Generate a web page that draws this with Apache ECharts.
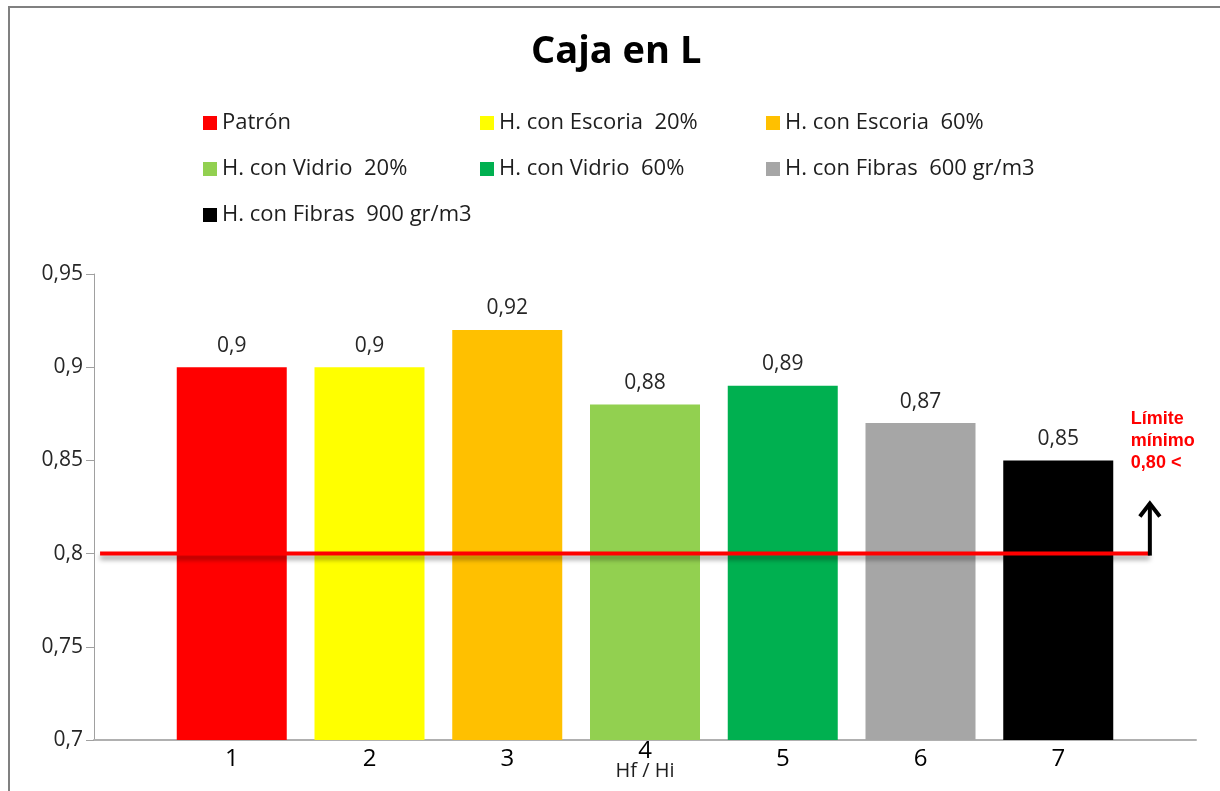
<!DOCTYPE html>
<html>
<head>
<meta charset="utf-8">
<title>Caja en L</title>
<script src="https://cdn.jsdelivr.net/npm/echarts@6/dist/echarts.min.js"></script>
<style>
  html, body { margin: 0; padding: 0; background: #ffffff; }
  #chart { width: 1220px; height: 791px; }
</style>
</head>
<body>
<div id="chart"></div>
<script>
// Mixes tested in the L-box, one bar each
const mixNames = [
  'Patrón',
  'H. con Escoria  20%',
  'H. con Escoria  60%',
  'H. con Vidrio  20%',
  'H. con Vidrio  60%',
  'H. con Fibras  600 gr/m3',
  'H. con Fibras  900 gr/m3'
];
// Position of each bar on the Hf / Hi axis
const positions = [1, 2, 3, 4, 5, 6, 7];
// Hf / Hi ratio for each mix
const ratios = [0.90, 0.90, 0.92, 0.88, 0.89, 0.87, 0.85];
const mixColors = ['#ff0000', '#ffff00', '#ffc000', '#92d050', '#00b050', '#a6a6a6', '#000000'];
const axisTitle = 'Hf / Hi';
// Minimum acceptable ratio
const minLimit = 0.80;
const limitSpan = [0.044, 7.665];
const arrowTop = 0.828;
const yTicks = { min: 0.7, max: 0.95, step: 0.05 };

const fmt = v => String(+Number(v).toFixed(2)).replace('.', ',');
const FONT = '"Open Sans", "Noto Sans", sans-serif';

const barSeries = mixNames.map((name, i) => ({
  name: name,
  type: 'bar',
  data: [[positions[i], ratios[i]]],
  barWidth: 110,
  barGap: '-100%',
  itemStyle: { color: mixColors[i] },
  label: {
    show: true,
    position: 'top',
    distance: 11,
    color: '#262626',
    fontFamily: FONT,
    fontSize: 21,
    formatter: p => fmt(p.value[1])
  },
  z: 2
}));

// Legend laid out in three columns
const legendColumns = [
  { left: 198, names: [mixNames[0], mixNames[3], mixNames[6]] },
  { left: 475, names: [mixNames[1], mixNames[4]] },
  { left: 761, names: [mixNames[2], mixNames[5]] }
];
const legends = legendColumns.map(col => ({
  orient: 'vertical',
  left: col.left,
  top: 107,
  itemGap: 24,
  itemWidth: 14,
  itemHeight: 14,
  icon: 'rect',
  data: col.names,
  selectedMode: false,
  textStyle: { fontFamily: FONT, fontSize: 22, color: '#1e1e1e', padding: [0, 0, 0, 0] }
}));

const chart = echarts.init(document.getElementById('chart'), null, { renderer: 'canvas' });
chart.setOption({
  backgroundColor: '#ffffff',
  animation: false,
  title: {
    text: 'Caja en L',
    left: 526,
    top: 28,
    textStyle: { fontFamily: FONT, fontSize: 38, fontWeight: 'bold', color: '#000000' }
  },
  legend: legends,
  graphic: [{
    type: 'polyline',
    shape: { points: [[9, 791], [9, 7], [1220, 7]] },
    style: { stroke: '#808080', lineWidth: 2, fill: null },
    silent: true
  }],
  grid: { left: 94, right: 24, top: 274, bottom: 51, outerBoundsMode: 'none' },
  xAxis: {
    type: 'value',
    min: 0,
    max: 8,
    interval: 1,
    axisLine: { show: true, lineStyle: { color: '#b0b0b0', width: 2 } },
    axisTick: { show: false },
    splitLine: { show: false },
    axisLabel: {
      fontFamily: FONT,
      fontSize: 24,
      color: '#000000',
      margin: 7,
      formatter: v => {
        if (positions.indexOf(v) < 0) return '';
        // the middle tick carries the axis title underneath it
        return v === 4 ? '{up|' + v + '}\n{ttl|' + axisTitle + '}' : String(v);
      },
      rich: {
        up: { fontFamily: FONT, fontSize: 24, color: '#000000', lineHeight: 8 },
        ttl: { fontFamily: FONT, fontSize: 20, color: '#1e1e1e', lineHeight: 32 }
      }
    }
  },
  yAxis: {
    type: 'value',
    min: yTicks.min,
    max: yTicks.max,
    interval: yTicks.step,
    axisLine: { show: true, lineStyle: { color: '#a0a0a0', width: 1 } },
    axisTick: { show: true, length: 8, lineStyle: { color: '#a0a0a0' } },
    splitLine: { show: false },
    axisLabel: {
      fontFamily: FONT,
      fontSize: 21,
      color: '#262626',
      margin: 11,
      formatter: fmt
    }
  },
  series: barSeries.concat([
    {
      name: 'Límite',
      type: 'line',
      data: [[limitSpan[0], minLimit], [limitSpan[1], minLimit]],
      symbol: 'none',
      lineStyle: {
        color: '#ff0000',
        width: 4,
        shadowColor: 'rgba(0,0,0,0.4)',
        shadowBlur: 5,
        shadowOffsetY: 4
      },
      z: 5,
      silent: true
    },
    {
      name: 'Flecha',
      type: 'custom',
      silent: true,
      z: 6,
      data: [[limitSpan[1], minLimit, arrowTop]],
      renderItem: (params, api) => {
        const base = api.coord([api.value(0), api.value(1)]);
        const tip = api.coord([api.value(0), api.value(2)]);
        return {
          type: 'group',
          children: [
            {
              type: 'line',
              shape: { x1: base[0], y1: base[1] + 2, x2: tip[0], y2: tip[1] + 2 },
              style: { stroke: '#000000', lineWidth: 4 }
            },
            {
              type: 'polyline',
              shape: { points: [[tip[0] - 10, tip[1] + 15], [tip[0], tip[1] + 2], [tip[0] + 10, tip[1] + 15]] },
              style: { stroke: '#000000', lineWidth: 4, fill: null, lineJoin: 'miter' }
            },
            {
              type: 'text',
              x: tip[0] - 19,
              y: tip[1] - 93,
              style: {
                text: 'Límite\nmínimo\n0,80 <',
                fill: '#ff0000',
                font: 'bold 18px "Liberation Sans", Arial, sans-serif',
                lineHeight: 22,
                align: 'left',
                verticalAlign: 'top'
              }
            }
          ]
        };
      }
    }
  ])
});
</script>
</body>
</html>
